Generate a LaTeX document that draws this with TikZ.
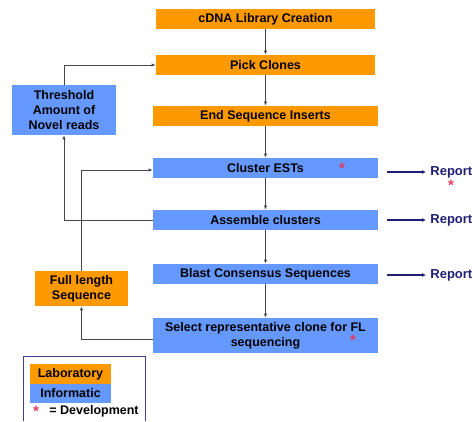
\documentclass[tikz,border=0pt]{standalone}
\usepackage{fontspec}
\setmainfont{Liberation Sans}
\usetikzlibrary{arrows.meta}
\definecolor{orange1}{RGB}{255, 153, 0}
\definecolor{blue1}{RGB}{102, 153, 255}
\definecolor{navy1}{RGB}{30, 30, 115}
\definecolor{red1}{RGB}{225, 60, 100}
\definecolor{grey1}{RGB}{70, 70, 70}

\begin{document}
\begin{tikzpicture}[x=1pt, y=-1pt, line width=0.8pt,
  box/.style={inner sep=0pt, minimum height=20pt, align=center,
    font=\bfseries\fontsize{12.5}{15}\selectfont},
  lab/.style={box, fill=orange1},
  inf/.style={box, fill=blue1},
  flow/.style={draw=grey1, -{Latex[length=4pt,width=3.5pt]}},
  repline/.style={draw=navy1, line width=1.1pt, -{Latex[length=4pt,width=4pt]}},
  report/.style={anchor=west, inner sep=1pt, text=navy1,
    font=\bfseries\fontsize{13}{15}\selectfont},
  devmark/.style={inner sep=0pt, text=red1, font=\bfseries\fontsize{15}{15}\selectfont}]
  \useasboundingbox (0,0) rectangle (473,421);

  % main pipeline
  \node[lab, minimum width=219pt] (lib) at (265.5,19) {cDNA Library Creation};
  \node[lab, minimum width=219pt] (pick) at (265.5,65) {Pick Clones};
  \node[lab, minimum width=225pt] (ends) at (265.5,116) {End Sequence Inserts};
  \node[inf, minimum width=225pt] (clust) at (265.5,168) {Cluster ESTs};
  \node[inf, minimum width=225pt] (assem) at (265.5,220) {Assemble clusters};
  \node[inf, minimum width=225pt] (blast) at (265.5,274) {Blast Consensus Sequences};
  \node[inf, minimum width=225pt, minimum height=35pt] (sel) at (265.5,335.5)
    {Select representative clone for FL\\sequencing};

  % side boxes
  \node[inf, minimum width=104pt, minimum height=50pt] (thr) at (64,110)
    {Threshold\\Amount of\\Novel reads};
  \node[lab, minimum width=93pt, minimum height=35pt] (full) at (81.5,288.5)
    {Full length\\Sequence};

  \foreach \from/\to in {lib/pick, pick/ends, ends/clust, clust/assem, assem/blast, blast/sel}
    \draw[flow] (\from) -- (\to);

  % feedback loops
  \draw[flow] (thr.north) |- (pick.west);
  \draw[flow] (assem.west) -| (thr.south);
  \draw[flow] (full.north) |- ([yshift=-2pt]clust.west);
  \draw[flow] ([yshift=-3.5pt]sel.west) -| (full.south);

  % reports
  \node[report] (r1) at (429,172) {Report};
  \node[report] (r2) at (429,220) {Report};
  \node[report] (r3) at (429,275) {Report};
  \coordinate (s1) at (387,172);
  \coordinate (s2) at (387,220);
  \coordinate (s3) at (387,275);
  \foreach \i in {1,2,3}
    \draw[repline] (s\i) -- ([xshift=-3pt]r\i.west);

  % development marks
  \node[devmark] (d1) at (342,168) {*};
  \node[devmark] (d2) at (353,340) {*};
  \node[devmark] (d3) at (451,185) {*};

  % legend
  \draw[navy1!85, line width=1pt] (23,421) |- (145,356) -- (145,421);
  \node[lab, minimum width=81pt] (klab) at (70.5,374) {Laboratory};
  \node[inf, minimum width=81pt, minimum height=19pt] (kinf) at (70.5,393.5) {Informatic};
  \node[devmark] (kdev) at (36,411) {*};
  \node[box, anchor=west] (ktext) at (49,411) {= Development};
\end{tikzpicture}
\end{document}
